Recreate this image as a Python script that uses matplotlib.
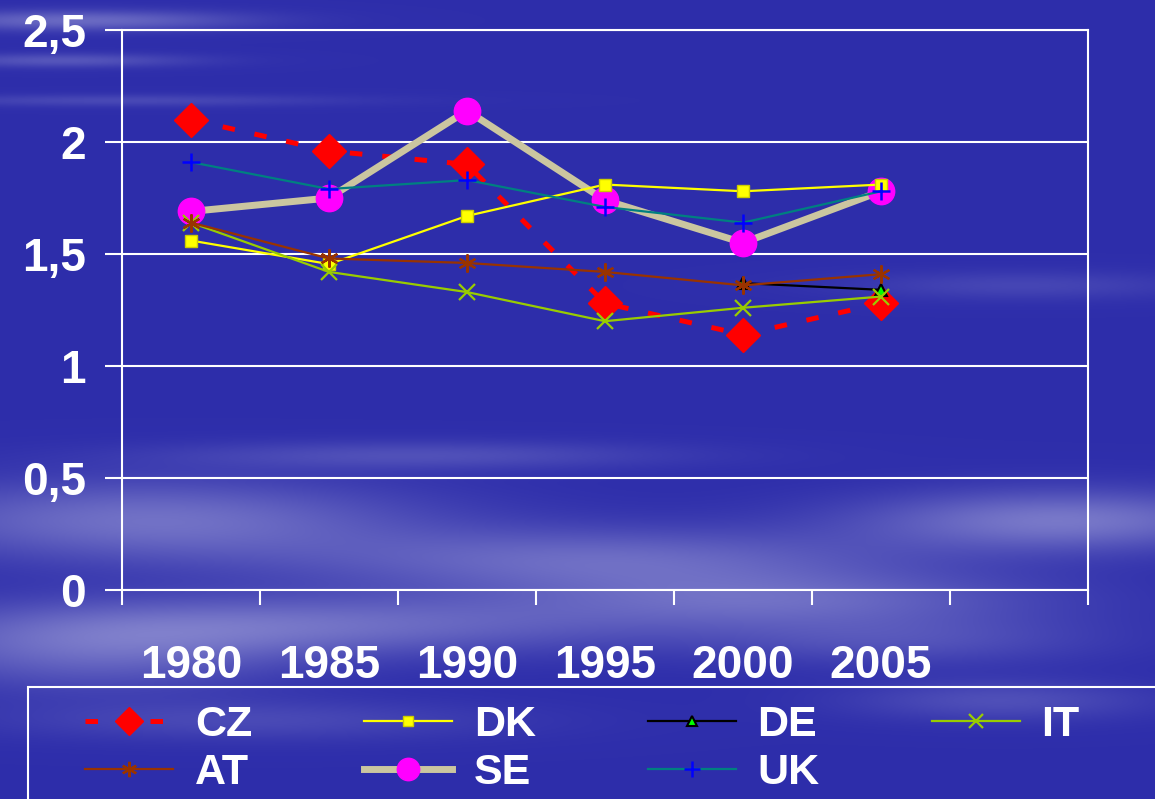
import numpy as np
import matplotlib
matplotlib.use('Agg')
import matplotlib.pyplot as plt
from matplotlib.patches import Rectangle

years = ['1980', '1985', '1990', '1995', '2000', '2005']
nan = np.nan

cz = [2.10, 1.96, 1.90, 1.28, 1.14, 1.28]
dk = [1.56, 1.455, 1.67, 1.81, 1.78, 1.81]
de = [nan, nan, nan, nan, 1.37, 1.34]
it = [1.64, 1.42, 1.33, 1.20, 1.26, 1.31]
at = [1.64, 1.48, 1.46, 1.42, 1.36, 1.41]
se = [1.69, 1.75, 2.14, 1.74, 1.55, 1.78]
uk = [1.91, 1.79, 1.83, 1.71, 1.64, 1.78]

yticks = [0, 0.5, 1, 1.5, 2, 2.5]
ytick_labels = ['0', '0,5', '1', '1,5', '2', '2,5']

W, H = 1155, 799
fig = plt.figure(figsize=(W / 100, H / 100), dpi=100)
bold = ['Liberation Sans', 'DejaVu Sans']

# sky background (soft clouds on blue)
yy, xx = np.mgrid[0:H, 0:W]
cloud = np.zeros((H, W))
blobs = [
    (80, 20, 160, 10, 0.45), (60, 60, 130, 7, 0.30), (120, 100, 220, 6, 0.20),
    (150, 520, 260, 40, 0.50), (320, 625, 320, 30, 0.45), (90, 650, 200, 40, 0.40),
    (600, 560, 300, 32, 0.45), (780, 600, 260, 28, 0.40), (420, 455, 250, 14, 0.25),
    (1060, 520, 200, 30, 0.55), (1020, 285, 170, 14, 0.18), (250, 720, 250, 20, 0.20),
    (900, 640, 200, 25, 0.25), (1000, 700, 150, 20, 0.25),
]
for cx, cy, sx, sy, a in blobs:
    cloud += a * np.exp(-(((xx - cx) / sx) ** 2 + ((yy - cy) / sy) ** 2))
cloud = np.clip(cloud, 0, 0.85)
base = np.array([0.18, 0.18, 0.67])
light = np.array([0.70, 0.70, 0.88])
img = base[None, None, :] * (1 - cloud[..., None]) + light[None, None, :] * cloud[..., None]
bg = fig.add_axes([0, 0, 1, 1], zorder=-10)
bg.imshow(img, aspect='auto', interpolation='bilinear')
bg.axis('off')

ax = fig.add_axes([122 / W, 1 - 590 / H, (1088 - 122) / W, (590 - 30) / H])
ax.patch.set_alpha(0)

x = np.arange(len(years))
l_cz, = ax.plot(x, cz, color='#ff0000', lw=3.6, dashes=(2.5, 4), marker='D',
                markersize=17, markerfacecolor='#ff0000', markeredgecolor='#ff0000',
                label='CZ', zorder=3)
l_dk, = ax.plot(x, dk, color='#ffff00', lw=1.6, marker='s', markersize=8.5,
                markerfacecolor='#ffff00', markeredgecolor='#cccc00', label='DK', zorder=4)
l_de, = ax.plot(x, de, color='black', lw=1.6, marker='^', markersize=9,
                markerfacecolor='#00ff00', markeredgecolor='black', markeredgewidth=1.5,
                label='DE', zorder=4)
l_it, = ax.plot(x, it, color='#99cc00', lw=1.6, marker='x', markersize=12,
                markeredgewidth=1.6, label='IT', zorder=4)
l_at, = ax.plot(x, at, color='#993300', lw=1.6, marker=(6, 2, 0), markersize=13,
                markeredgewidth=1.6, label='AT', zorder=4)
l_se, = ax.plot(x, se, color='#cbc6a0', lw=5, marker='o', markersize=19,
                markerfacecolor='#ff00ff', markeredgecolor='#ff00ff', label='SE', zorder=3)
l_uk, = ax.plot(x, uk, color='#008080', lw=1.6, marker='+', markersize=13,
                markeredgewidth=1.8, markeredgecolor='#0000ff', label='UK', zorder=5)

ax.set_xlim(-0.5, 6.5)
ax.set_ylim(0, 2.5)
ax.set_xticks(np.arange(-0.5, 7, 1))
ax.set_xticklabels([])
ax.set_xticks(x, minor=True)
ax.set_xticklabels(years, minor=True, fontsize=33, fontweight='bold', color='white',
                   family=bold)
ax.tick_params(axis='x', which='major', direction='out', length=11, width=1.5, color='white')
ax.tick_params(axis='x', which='minor', length=0, pad=39)

ax.set_yticks(yticks)
ax.set_yticklabels(ytick_labels, fontsize=33, fontweight='bold', color='white',
                   family=bold)
ax.tick_params(axis='y', direction='out', length=12, width=1.5, color='white', pad=14)
ax.grid(axis='y', color='white', lw=1.5)
ax.set_axisbelow(True)
for s in ax.spines.values():
    s.set_color('white')
    s.set_linewidth(1.5)

# legend box running off the bottom right edge
fig.add_artist(Rectangle((28 / W, -0.1), 1.2, 1 - 687 / H + 0.1,
                         transform=fig.transFigure, facecolor='none',
                         edgecolor='white', lw=1.5))

handles = [l_cz, l_at, l_dk, l_se, l_de, l_uk, l_it]
leg = fig.legend(handles=handles, labels=[h.get_label() for h in handles], ncol=4,
                 loc='upper left', bbox_to_anchor=(85 / W, 1 - 705 / H),
                 bbox_transform=fig.transFigure, frameon=False,
                 prop={'family': bold, 'weight': 'bold', 'size': 31},
                 handlelength=2.05, handletextpad=0.5, columnspacing=2.6,
                 labelspacing=0.18, borderpad=0, borderaxespad=0,
                 markerscale=0.85)
for t in leg.get_texts():
    t.set_color('white')

fig.savefig('out.png', dpi=100)
